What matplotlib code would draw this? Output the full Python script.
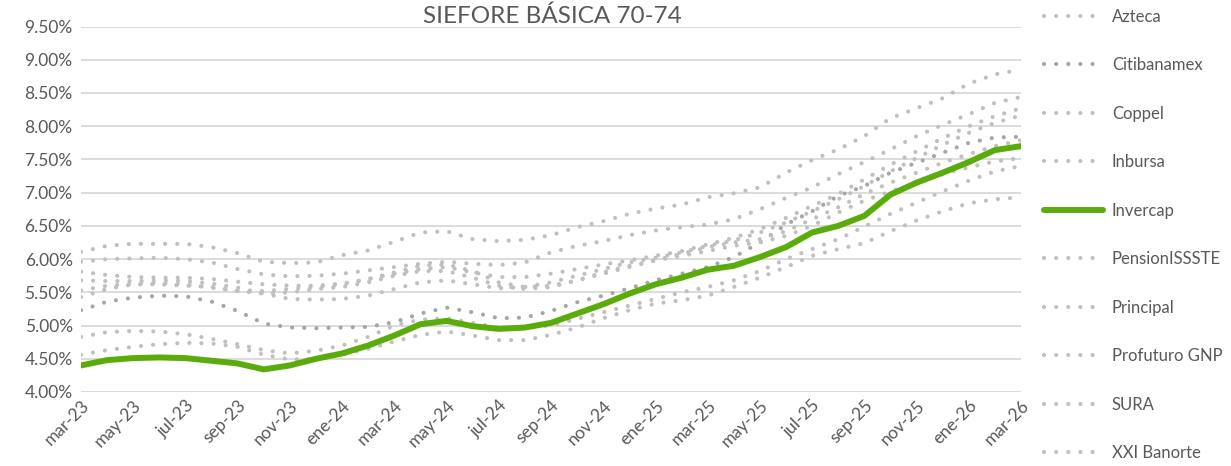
import numpy as np
import matplotlib
matplotlib.use('Agg')
import matplotlib.pyplot as plt
from matplotlib.ticker import FuncFormatter

plt.rcParams['font.family'] = ['Lato', 'DejaVu Sans']

meses = ['mar-23', 'abr-23', 'may-23', 'jun-23', 'jul-23', 'ago-23', 'sep-23', 'oct-23', 'nov-23', 'dic-23',
         'ene-24', 'feb-24', 'mar-24', 'abr-24', 'may-24', 'jun-24', 'jul-24', 'ago-24', 'sep-24', 'oct-24',
         'nov-24', 'dic-24', 'ene-25', 'feb-25', 'mar-25', 'abr-25', 'may-25', 'jun-25', 'jul-25', 'ago-25',
         'sep-25', 'oct-25', 'nov-25', 'dic-25', 'ene-26', 'feb-26', 'mar-26']

# rendimientos (%)
azteca = [5.96, 6.00, 6.01, 6.02, 6.00, 5.95, 5.85, 5.77, 5.74, 5.75, 5.78, 5.83, 5.88, 5.93, 5.96, 5.93,
          5.91, 5.95, 6.10, 6.20, 6.27, 6.36, 6.43, 6.48, 6.52, 6.60, 6.75, 6.92, 7.08, 7.28, 7.46, 7.65,
          7.85, 8.02, 8.18, 8.35, 8.44]
citibanamex = [5.23, 5.36, 5.42, 5.45, 5.44, 5.36, 5.22, 5.03, 4.97, 4.96, 4.97, 4.98, 5.05, 5.18, 5.27, 5.20,
               5.11, 5.12, 5.22, 5.35, 5.45, 5.56, 5.68, 5.78, 5.88, 6.03, 6.25, 6.52, 6.72, 6.95, 7.10, 7.30,
               7.45, 7.60, 7.75, 7.83, 7.84]
coppel = [4.83, 4.90, 4.92, 4.91, 4.87, 4.80, 4.72, 4.63, 4.58, 4.62, 4.70, 4.83, 5.00, 5.09, 5.11, 5.04,
          4.97, 4.96, 5.00, 5.10, 5.20, 5.30, 5.40, 5.50, 5.58, 5.68, 5.82, 6.00, 6.15, 6.30, 6.49, 6.68,
          6.85, 7.02, 7.18, 7.32, 7.40]
inbursa = [5.81, 5.76, 5.73, 5.72, 5.72, 5.70, 5.66, 5.62, 5.60, 5.60, 5.63, 5.70, 5.78, 5.85, 5.88, 5.80,
           5.73, 5.73, 5.78, 5.85, 5.92, 5.98, 6.05, 6.12, 6.22, 6.32, 6.45, 6.62, 6.80, 6.98, 7.20, 7.42,
           7.62, 7.82, 8.00, 8.15, 8.27]
invercap = [4.40, 4.48, 4.51, 4.52, 4.51, 4.47, 4.43, 4.34, 4.40, 4.50, 4.58, 4.70, 4.85, 5.02, 5.07, 4.99,
            4.95, 4.97, 5.04, 5.18, 5.32, 5.48, 5.62, 5.72, 5.84, 5.90, 6.03, 6.18, 6.40, 6.50, 6.65, 6.97,
            7.15, 7.30, 7.46, 7.64, 7.70]
pensionissste = [4.56, 4.63, 4.68, 4.72, 4.74, 4.73, 4.68, 4.56, 4.49, 4.50, 4.56, 4.65, 4.76, 4.86, 4.91, 4.85,
                 4.78, 4.78, 4.86, 4.97, 5.11, 5.23, 5.33, 5.38, 5.45, 5.58, 5.72, 5.88, 6.05, 6.15, 6.24, 6.42,
                 6.58, 6.72, 6.84, 6.90, 6.93]
principal = [5.68, 5.67, 5.67, 5.68, 5.67, 5.63, 5.57, 5.48, 5.40, 5.39, 5.40, 5.45, 5.55, 5.65, 5.68, 5.62,
             5.56, 5.58, 5.65, 5.75, 5.85, 5.95, 6.02, 6.10, 6.20, 6.28, 6.40, 6.55, 6.72, 6.90, 7.10, 7.32,
             7.52, 7.72, 7.90, 8.05, 8.16]
profuturo = [6.11, 6.20, 6.23, 6.23, 6.23, 6.18, 6.09, 5.96, 5.94, 5.95, 6.06, 6.13, 6.26, 6.40, 6.42, 6.30,
             6.27, 6.29, 6.36, 6.48, 6.57, 6.68, 6.76, 6.82, 6.93, 6.99, 7.08, 7.30, 7.49, 7.65, 7.85, 8.12,
             8.27, 8.42, 8.64, 8.78, 8.85]
sura = [5.53, 5.60, 5.63, 5.64, 5.62, 5.57, 5.52, 5.52, 5.55, 5.58, 5.62, 5.70, 5.80, 5.90, 5.92, 5.82,
        5.65, 5.58, 5.60, 5.68, 5.78, 5.88, 5.98, 6.08, 6.18, 6.25, 6.30, 6.42, 6.60, 6.78, 6.98, 7.15,
        7.30, 7.45, 7.58, 7.70, 7.79]
banorte = [5.43, 5.55, 5.62, 5.62, 5.60, 5.58, 5.52, 5.48, 5.50, 5.55, 5.58, 5.65, 5.75, 5.82, 5.82, 5.72,
           5.60, 5.55, 5.58, 5.68, 5.80, 5.90, 5.98, 6.05, 6.12, 6.20, 6.25, 6.35, 6.50, 6.70, 6.88, 7.02,
           7.15, 7.28, 7.38, 7.47, 7.52]

nombres = ['Azteca', 'Citibanamex', 'Coppel', 'Inbursa', 'Invercap', 'PensionISSSTE',
           'Principal', 'Profuturo GNP', 'SURA', 'XXI Banorte']
series = [azteca, citibanamex, coppel, inbursa, invercap, pensionissste,
          principal, profuturo, sura, banorte]

fig = plt.figure(figsize=(12.31, 4.66), dpi=100)
ax = fig.add_axes([0.0658, 0.1588, 0.7636, 0.7843])

x = np.arange(len(meses))
for nombre, s in zip(nombres, series):
    if nombre == 'Invercap':
        ax.plot(x, s, color='#5AAC0C', lw=4.3, solid_capstyle='round', zorder=5, label=nombre)
    else:
        col = '#A6A6A6' if nombre == 'Citibanamex' else '#C0C0C0'
        ax.plot(x, s, color=col, lw=3.0, linestyle=(0, (0.01, 2.9)), dash_capstyle='round',
                zorder=3, label=nombre)

ax.set_xlim(0, len(meses) - 1)
ax.set_ylim(4.0, 9.5)
ax.set_yticks(np.arange(4.0, 9.51, 0.5))
ax.yaxis.set_major_formatter(FuncFormatter(lambda v, p: '%.2f%%' % v))
ax.set_xticks(x[::2])
ax.set_xticklabels(meses[::2], rotation=45, ha='right', rotation_mode='anchor')
ax.grid(axis='y', color='#D9D9D9', lw=1.3)
ax.set_axisbelow(True)
for sp in ax.spines.values():
    sp.set_visible(False)
ax.tick_params(length=0, labelsize=12.5, colors='#595959', pad=6)
ax.tick_params(axis='x', pad=4)

fig.text(0.4485, 0.965, 'SIEFORE BÁSICA 70-74', ha='center', va='center', fontsize=17.5, color='#595959')

leg = ax.legend(loc='upper left', bbox_to_anchor=(1.009, 1.09), frameon=False, fontsize=12,
                handlelength=3.5, handletextpad=0.55, labelspacing=1.95, labelcolor='#595959')

plt.savefig('out.png', dpi=100)
